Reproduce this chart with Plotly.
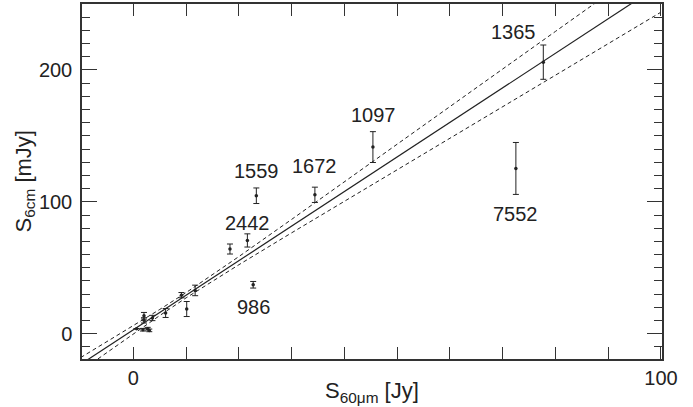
import plotly.graph_objects as go

# Data (S60um in Jy, S6cm in mJy)
s60 = [77.7, 72.5, 45.4, 34.4, 23.3, 21.6, 18.3, 22.7, 11.7, 10.1, 9.1, 6.1, 3.6, 2.0, 2.0, 1.8, 2.7, 3.0, 0.6]
s6 = [205.9, 125.3, 141.5, 105.3, 104.6, 70.7, 64.2, 37.1, 32.8, 18.7, 29.2, 15.7, 11.9, 13.6, 10.1, 3.0, 3.8, 2.5, 3.8]
s6_err = [13.0, 19.7, 11.7, 5.8, 5.9, 5.0, 3.8, 2.5, 4.0, 5.7, 2.0, 3.4, 2.0, 2.5, 2.0, 1.0, 1.0, 1.0, 0.0]

# Labelled galaxies (NGC numbers) and label positions
label_text = ["1365", "7552", "1097", "1672", "1559", "2442", "986"]
label_x = [72.0, 72.5, 45.5, 34.4, 23.3, 21.6, 22.7]
label_y = [229.1, 90.9, 166.0, 126.8, 123.0, 83.9, 20.5]

# Fit line and confidence band
band_x = [-10, -5, 0, 5, 10, 15, 20, 30, 40, 60, 80, 100]
fit_y = [-23.2, -10.1, 3.0, 16.1, 29.2, 42.3, 55.4, 81.6, 107.8, 160.2, 212.6, 265.0]
upper_y = [-18.1, -6.05, 6.1, 18.4, 31.2, 44.6, 58.5, 86.7, 115.1, 172.1, 229.2, 286.2]
lower_y = [-28.3, -14.15, -0.1, 13.8, 27.2, 40.0, 52.3, 76.5, 100.5, 148.3, 196.0, 243.8]

x_title = "S<sub>60\u03bcm</sub> [Jy]"
y_title = "S<sub>6cm</sub> [mJy]"

ink = "#222222"
font = "Liberation Sans, Arial, sans-serif"

fig = go.Figure()
fig.add_trace(go.Scatter(x=band_x, y=upper_y, mode="lines",
                         line=dict(color=ink, width=1, dash="4px,3px"), hoverinfo="skip"))
fig.add_trace(go.Scatter(x=band_x, y=lower_y, mode="lines",
                         line=dict(color=ink, width=1, dash="4px,3px"), hoverinfo="skip"))
fig.add_trace(go.Scatter(x=band_x, y=fit_y, mode="lines",
                         line=dict(color=ink, width=1.2), hoverinfo="skip"))
fig.add_trace(go.Scatter(
    x=s60, y=s6, mode="markers",
    marker=dict(color=ink, size=3.5),
    error_y=dict(type="data", array=s6_err, visible=True, color=ink, thickness=1, width=3),
))

for t, x, y in zip(label_text, label_x, label_y):
    fig.add_annotation(x=x, y=y, text=t, showarrow=False,
                       font=dict(family=font, size=20, color=ink))

# Axis titles as paper-anchored annotations
fig.add_annotation(xref="paper", yref="paper", x=0.5, y=-0.094, text=x_title,
                   showarrow=False, xanchor="center", yanchor="middle",
                   font=dict(family=font, size=22, color=ink))
fig.add_annotation(xref="paper", yref="paper", x=-0.10, y=0.5, text=y_title,
                   showarrow=False, xanchor="center", yanchor="middle", textangle=-90,
                   font=dict(family=font, size=22, color=ink))

axis_common = dict(
    showline=True, linecolor="#333333", linewidth=1.5, mirror="ticks",
    ticks="inside", tickcolor="#333333", tickwidth=1,
    showgrid=False, zeroline=False, automargin=False,
    tickfont=dict(family=font, size=20, color=ink),
)

fig.update_xaxes(range=[-9.75, 100.2], tick0=0, dtick=100, ticklen=12,
                 minor=dict(dtick=10, tick0=0, ticklen=12, ticks="inside", tickcolor="#333333", tickwidth=1, showgrid=False),
                 ticklabelstandoff=0,
                 **axis_common)
fig.update_yaxes(range=[-19.2, 250], tick0=0, dtick=100, ticklen=15,
                 minor=dict(dtick=10, tick0=0, ticklen=8, ticks="inside", tickcolor="#333333", tickwidth=1, showgrid=False),
                 ticklabelstandoff=4,
                 **axis_common)

fig.update_layout(
    width=693, height=407,
    margin=dict(l=82, r=31, t=4, b=48),
    paper_bgcolor="white", plot_bgcolor="white",
    showlegend=False,
)

fig.write_html("out.html")
